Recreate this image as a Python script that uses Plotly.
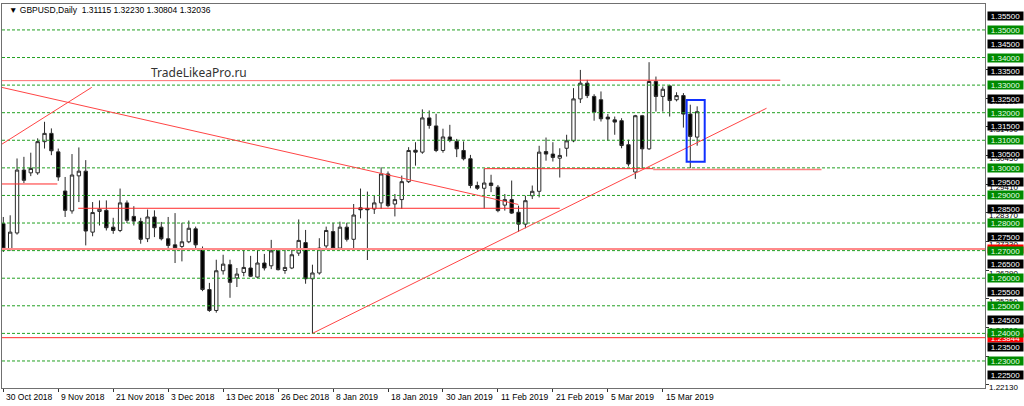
import pandas as pd
import plotly.graph_objects as go

# --- GBPUSD daily bars, 30 Oct 2018 .. 22 Mar 2019 (weekdays, no 25 Dec / 1 Jan) ---
dates = pd.bdate_range("2018-10-30", "2019-03-22", freq="C",
                       holidays=["2018-12-25", "2019-01-01"])

opens = [1.2798, 1.2703, 1.2764, 1.2992, 1.2982, 1.2982, 1.3095, 1.3125, 1.3058, 1.2916,
         1.2844, 1.2971, 1.2988, 1.2767, 1.2842, 1.2846, 1.2785, 1.2773, 1.2873, 1.2824,
         1.2806, 1.2743, 1.2822, 1.2785, 1.2743, 1.2721, 1.2715, 1.2732, 1.2779, 1.2707,
         1.2559, 1.2483, 1.2627, 1.2649, 1.2601, 1.2621, 1.2637, 1.2604, 1.2655, 1.2645,
         1.2707, 1.2628, 1.2637, 1.2691, 1.2729, 1.2598, 1.2619, 1.2717, 1.2769, 1.2709,
         1.2785, 1.2741, 1.2855, 1.2853, 1.2851, 1.2873, 1.2978, 1.2869, 1.2885, 1.2950,
         1.3064, 1.3057, 1.3181, 1.3152, 1.3063, 1.3112, 1.3096, 1.3063, 1.3033, 1.2936,
         1.2926, 1.2945, 1.2930, 1.2865, 1.2885, 1.2839, 1.2796, 1.2899, 1.2915, 1.3059,
         1.3050, 1.3035, 1.3071, 1.3098, 1.3250, 1.3307, 1.3259, 1.3247, 1.3184, 1.3174,
         1.3171, 1.3084, 1.2985, 1.3189, 1.3069, 1.3313, 1.3259, 1.3297, 1.3247, 1.3262,
         1.3195, 1.31115]
highs = [1.2822, 1.2828, 1.3034, 1.3040, 1.3055, 1.3107, 1.3167, 1.3143, 1.3070, 1.2967,
         1.3050, 1.3074, 1.3028, 1.2876, 1.2882, 1.2882, 1.2819, 1.2925, 1.2882, 1.2861,
         1.2819, 1.2849, 1.2846, 1.2804, 1.2822, 1.2836, 1.2801, 1.2809, 1.2787, 1.2715,
         1.2583, 1.2667, 1.2685, 1.2667, 1.2637, 1.2705, 1.2681, 1.2705, 1.2688, 1.2739,
         1.2709, 1.2705, 1.2705, 1.2813, 1.2775, 1.2649, 1.2745, 1.2787, 1.2801, 1.2805,
         1.2801, 1.2869, 1.2925, 1.2914, 1.2899, 1.3002, 1.2987, 1.2905, 1.2972, 1.3075,
         1.3093, 1.3212, 1.3208, 1.3196, 1.3142, 1.3156, 1.3105, 1.3096, 1.3047, 1.2950,
         1.2997, 1.2975, 1.2938, 1.2905, 1.2954, 1.2863, 1.2899, 1.2936, 1.3080, 1.3110,
         1.3093, 1.3071, 1.3120, 1.3289, 1.3355, 1.3319, 1.3267, 1.3277, 1.3195, 1.3186,
         1.3180, 1.3102, 1.3192, 1.3192, 1.3383, 1.3331, 1.3295, 1.3301, 1.3274, 1.3271,
         1.3229, 1.32230]
lows = [1.2695, 1.2701, 1.2758, 1.2945, 1.2970, 1.2975, 1.3070, 1.3046, 1.2953, 1.2822,
        1.2834, 1.2876, 1.2719, 1.2752, 1.2791, 1.2773, 1.2761, 1.2767, 1.2800, 1.2791,
        1.2725, 1.2731, 1.2749, 1.2737, 1.2701, 1.2655, 1.2661, 1.2727, 1.2709, 1.2553,
        1.2478, 1.2475, 1.2613, 1.2529, 1.2568, 1.2607, 1.2604, 1.2601, 1.2628, 1.2633,
        1.2628, 1.2616, 1.2633, 1.2681, 1.2580, 1.2400, 1.2613, 1.2709, 1.2705, 1.2703,
        1.2733, 1.2705, 1.2817, 1.2666, 1.2833, 1.2851, 1.2857, 1.2824, 1.2851, 1.2945,
        1.3008, 1.3051, 1.3142, 1.3057, 1.3055, 1.3093, 1.3039, 1.3027, 1.2926, 1.2920,
        1.2853, 1.2912, 1.2839, 1.2845, 1.2833, 1.2768, 1.2781, 1.2887, 1.2893, 1.3026,
        1.3023, 1.2965, 1.3041, 1.3093, 1.3235, 1.3253, 1.3171, 1.3168, 1.3098, 1.3120,
        1.3071, 1.3005, 1.2960, 1.2999, 1.3065, 1.3204, 1.3204, 1.3186, 1.3241, 1.3146,
        1.2999, 1.30804]
closes = [1.2707, 1.2767, 1.2992, 1.2955, 1.2998, 1.3095, 1.3125, 1.3062, 1.2967, 1.2846,
          1.2974, 1.2988, 1.2771, 1.2838, 1.2850, 1.2783, 1.2773, 1.2873, 1.2810, 1.2807,
          1.2741, 1.2822, 1.2783, 1.2743, 1.2719, 1.2710, 1.2732, 1.2781, 1.2721, 1.2559,
          1.2483, 1.2627, 1.2651, 1.2585, 1.2615, 1.2639, 1.2607, 1.2655, 1.2637, 1.2699,
          1.2631, 1.2639, 1.2685, 1.2737, 1.2598, 1.2619, 1.2709, 1.2773, 1.2708, 1.2785,
          1.2741, 1.2829, 1.2848, 1.2848, 1.2873, 1.2978, 1.2863, 1.2885, 1.2950, 1.3063,
          1.3057, 1.3181, 1.3154, 1.3063, 1.3112, 1.3099, 1.3069, 1.3033, 1.2936, 1.2926,
          1.2945, 1.2936, 1.2845, 1.2885, 1.2836, 1.2796, 1.2881, 1.2915, 1.3057, 1.3050,
          1.3038, 1.3045, 1.3098, 1.3250, 1.3307, 1.3262, 1.3202, 1.3178, 1.3177, 1.3166,
          1.3081, 1.3014, 1.3189, 1.3069, 1.3313, 1.3259, 1.3285, 1.3244, 1.3262, 1.3195,
          1.3114, 1.32036]

# date labels along the bottom
tick_dates = ["2018-10-30", "2018-11-09", "2018-11-21", "2018-12-03", "2018-12-13",
              "2018-12-26", "2019-01-08", "2019-01-18", "2019-01-30", "2019-02-11",
              "2019-02-21", "2019-03-05", "2019-03-15"]

# levels drawn on the chart
green_levels = [1.35, 1.34, 1.33, 1.32, 1.31, 1.30, 1.29, 1.28, 1.27, 1.26, 1.25, 1.24, 1.23]
black_levels = [1.355, 1.345, 1.335, 1.325, 1.315, 1.305, 1.295, 1.285, 1.275, 1.265,
                1.255, 1.245, 1.235, 1.225]
scale_levels = [1.33570, 1.32530, 1.31490, 1.30450, 1.29410, 1.28370, 1.27330, 1.26290,
                1.25250, 1.24210, 1.23170, 1.22130]
red_full_levels = [1.2706, 1.23844]

# red horizontal segments: (start bar, end bar, price)
red_segments = [(-0.2, 56.3, 1.33162), (56.3, 113.1, 1.33178), (70, 94.6, 1.2997),
                (10.9, 81.0, 1.28535), (-0.2, 7.86, 1.29416)]
pink_segments = [(94.6, 119.1, 1.2994)]
# trendlines: (bar a, price a, bar b, price b)
trendlines = [(-0.23, 1.32918, 74.96, 1.28673),
              (-0.23, 1.30856, 12.87, 1.32918),
              (45.0, 1.2400, 111.1, 1.32161)]
# highlighted last two bars
box_bars = (99.47, 102.1)
box_prices = (1.30225, 1.32462)

idx = list(range(len(dates)))
date_list = list(dates)
tick_idx = [date_list.index(pd.Timestamp(t)) for t in tick_dates]
tick_text = [f"{pd.Timestamp(t).day} {pd.Timestamp(t):%b %Y}" for t in tick_dates]

fig = go.Figure()
fig.add_trace(go.Candlestick(
    x=idx, open=opens, high=highs, low=lows, close=closes,
    increasing=dict(line=dict(color="#2a2a2a", width=1), fillcolor="#ffffff"),
    decreasing=dict(line=dict(color="#2a2a2a", width=1), fillcolor="#000000"),
    whiskerwidth=0, showlegend=False, hoverinfo="skip",
))

shapes = []
for lv in green_levels:
    shapes.append(dict(type="line", xref="paper", x0=0, x1=1, yref="y", y0=lv, y1=lv,
                       line=dict(color="#22a022", width=1, dash="3px,2px")))
shapes.append(dict(type="line", xref="paper", x0=0, x1=1, yref="y",
                   y0=red_full_levels[0], y1=red_full_levels[0],
                   line=dict(color="#ff8a8a", width=2)))
shapes.append(dict(type="line", xref="paper", x0=0, x1=1, yref="y",
                   y0=red_full_levels[1], y1=red_full_levels[1],
                   line=dict(color="#ff2a2a", width=1)))
for i, (a, b, p) in enumerate(red_segments):
    col = "#ff7070" if i == 0 else "#ff2a2a"
    shapes.append(dict(type="line", x0=a, x1=b, y0=p, y1=p, line=dict(color=col, width=1)))
for a, b, p in pink_segments:
    shapes.append(dict(type="line", x0=a, x1=b, y0=p, y1=p, line=dict(color="#ff8080", width=1.5)))
for xa, pa, xb, pb in trendlines:
    shapes.append(dict(type="line", x0=xa, x1=xb, y0=pa, y1=pb,
                       line=dict(color="#ff4545", width=1)))
shapes.append(dict(type="rect", x0=box_bars[0], x1=box_bars[1],
                   y0=box_prices[0], y1=box_prices[1],
                   line=dict(color="#1030ff", width=2)))

ann = []
# header and watermark
ann.append(dict(xref="paper", yref="paper", x=0, y=1, xanchor="left", yanchor="top",
                xshift=5, yshift=1, showarrow=False,
                text="\u25bc GBPUSD,Daily  1.31115 1.32230 1.30804 1.32036",
                font=dict(family="Liberation Sans", size=8.5, color="#000000")))
ann.append(dict(xref="paper", yref="y", x=0.1495, y=1.3344, xanchor="left",
                yanchor="middle", showarrow=False, text="TradeLikeaPro.ru",
                font=dict(family="Noto Sans", size=12, color="#333333")))
# date labels
for ti, tt in zip(tick_idx, tick_text):
    ann.append(dict(xref="x", yref="paper", x=ti, y=0, xanchor="left", yanchor="top",
                    xshift=1, yshift=-2, showarrow=False, text=tt,
                    font=dict(family="Liberation Sans", size=8.5, color="#000000")))
# price scale (mostly hidden behind level labels)
lab_x = 1 + 2.0 / 983
for v in scale_levels:
    ann.append(dict(xref="paper", yref="y", x=lab_x, y=v, xanchor="left", yanchor="middle",
                    yshift=-3, showarrow=False, text=f"{v:.5f}",
                    font=dict(family="Liberation Sans", size=8, color="#000000")))
for v in red_full_levels:
    ann.append(dict(xref="paper", yref="y", x=lab_x, y=v, xanchor="left", yanchor="middle",
                    showarrow=False, text=f"{v:.5f}", width=35, height=8, borderpad=0,
                    bgcolor="#ff0000",
                    font=dict(family="Liberation Sans", size=8, color="#ffffff")))
for v in black_levels:
    ann.append(dict(xref="paper", yref="y", x=lab_x, y=v, xanchor="left", yanchor="middle",
                    showarrow=False, text=f"{v:.5f}", width=35, height=8, borderpad=0,
                    bgcolor="#000000",
                    font=dict(family="Liberation Sans", size=8, color="#ffffff")))
for v in green_levels:
    ann.append(dict(xref="paper", yref="y", x=lab_x, y=v, xanchor="left", yanchor="middle",
                    showarrow=False, text=f"{v:.5f}", width=35, height=8, borderpad=0,
                    bgcolor="#008a00",
                    font=dict(family="Liberation Sans", size=8, color="#e8ffe8")))

fig.update_layout(
    width=1024, height=406,
    margin=dict(l=2, r=39, t=4, b=18),
    paper_bgcolor="#ffffff", plot_bgcolor="#ffffff",
    shapes=shapes, annotations=ann,
    showlegend=False,
)
fig.update_xaxes(range=[-0.19, 142.9], showgrid=False, zeroline=False,
                 rangeslider_visible=False, tickvals=tick_idx, ticktext=tick_text,
                 showticklabels=False, ticks="outside", ticklen=3, tickcolor="#333333",
                 showline=True, linecolor="#707070", linewidth=1, mirror=True)
fig.update_yaxes(range=[1.2202, 1.3594], side="right", showgrid=False, zeroline=False,
                 tickvals=scale_levels, showticklabels=False, ticks="outside", ticklen=3,
                 tickcolor="#333333", showline=True, linecolor="#707070", linewidth=1,
                 mirror=True)

# page body margin would shift the 1024x406 figure inside the window
fig.write_html("out.html", config={"displayModeBar": False},
               post_script="document.body.style.margin='0';")
